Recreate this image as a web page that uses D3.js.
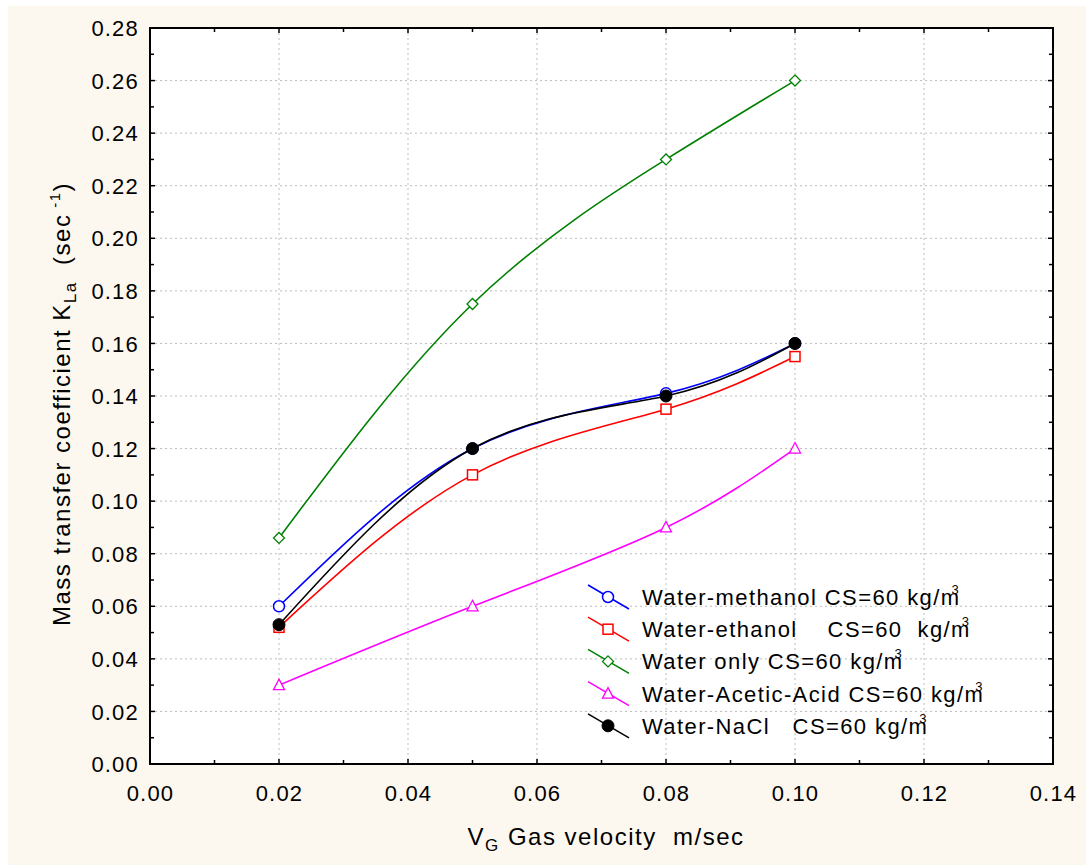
<!DOCTYPE html>
<html>
<head>
<meta charset="utf-8">
<script src="https://cdn.jsdelivr.net/npm/d3@7"></script>
<style>
  html, body { margin: 0; padding: 0; background: #ffffff; }
  svg { display: block; }
  text { font-family: "Liberation Sans", Arial, sans-serif; fill: #000; }
</style>
</head>
<body>
<svg id="chart" width="1086" height="867"></svg>
<script>
// ---- data ----
const gasVelocity = [0.02, 0.05, 0.08, 0.10];
const methanol = [0.060, 0.120, 0.141, 0.160];
const ethanol  = [0.052, 0.110, 0.135, 0.155];
const waterOnly = [0.086, 0.175, 0.230, 0.260];
const aceticAcid = [0.030, 0.060, 0.090, 0.120];
const nacl = [0.053, 0.120, 0.140, 0.160];
const seriesNames = [
  "Water-methanol CS=60 kg/m",
  "Water-ethanol    CS=60  kg/m",
  "Water only CS=60 kg/m",
  "Water-Acetic-Acid CS=60 kg/m",
  "Water-NaCl   CS=60 kg/m"
];
const xTicks = [0.00, 0.02, 0.04, 0.06, 0.08, 0.10, 0.12, 0.14];
const yTicks = [0.00, 0.02, 0.04, 0.06, 0.08, 0.10, 0.12, 0.14, 0.16, 0.18, 0.20, 0.22, 0.24, 0.26, 0.28];

const seriesStyle = [
  {values: methanol, color: "#0000ff", marker: "circle"},
  {values: ethanol, color: "#ff0000", marker: "square"},
  {values: waterOnly, color: "#008000", marker: "diamond"},
  {values: aceticAcid, color: "#ff00ff", marker: "triangle"},
  {values: nacl, color: "#000000", marker: "dot"}
];

// ---- layout ----
const svg = d3.select("#chart");
const L = 150, R = 1053, T = 28, B = 764;
svg.append("rect").attr("x", 8).attr("y", 6).attr("width", 1078).attr("height", 859).attr("fill", "#fcf8ef");
svg.append("rect").attr("x", L).attr("y", T).attr("width", R - L).attr("height", B - T).attr("fill", "#ffffff");

const x = d3.scaleLinear().domain([0, 0.14]).range([L, R]);
const y = d3.scaleLinear().domain([0, 0.28]).range([B, T]);

// grid
const g = svg.append("g");
xTicks.slice(1, -1).forEach(t => {
  g.append("line").attr("x1", x(t)).attr("x2", x(t)).attr("y1", T).attr("y2", B)
    .attr("stroke", "#bdbdbd").attr("stroke-width", 1).attr("stroke-dasharray", "2,3");
});
yTicks.slice(1, -1).forEach(t => {
  g.append("line").attr("y1", y(t)).attr("y2", y(t)).attr("x1", L).attr("x2", R)
    .attr("stroke", "#bdbdbd").attr("stroke-width", 1).attr("stroke-dasharray", "2,3");
});

// axes (tick labels)
const fmt = d3.format(".2f");
const xMinor = d3.range(0, 0.1401, 0.01);
const yMinor = d3.range(0, 0.2801, 0.01);

const xAxisB = d3.axisBottom(x).tickValues(xTicks).tickFormat(fmt).tickSize(0).tickPadding(21);
const gx = svg.append("g").attr("transform", `translate(0,${B})`).call(xAxisB);
gx.select(".domain").remove();
gx.selectAll("text").attr("font-size", 22).attr("font-family", "Liberation Sans, Arial, sans-serif")
  .attr("fill", "#000").style("letter-spacing", "1.2px");

const yAxisL = d3.axisLeft(y).tickValues(yTicks).tickFormat(fmt).tickSize(0).tickPadding(11);
const gy = svg.append("g").attr("transform", `translate(${L},0)`).call(yAxisL);
gy.select(".domain").remove();
gy.selectAll("text").attr("font-size", 22).attr("font-family", "Liberation Sans, Arial, sans-serif")
  .attr("fill", "#000").style("letter-spacing", "1.2px").attr("dy", "0.35em");

// tick marks on all four sides (inward)
const tk = svg.append("g").attr("stroke", "#000").attr("stroke-width", 1.5);
xMinor.forEach((t, i) => {
  const len = (i % 2 === 0) ? 5 : 4;
  tk.append("line").attr("x1", x(t)).attr("x2", x(t)).attr("y1", B).attr("y2", B - len);
  tk.append("line").attr("x1", x(t)).attr("x2", x(t)).attr("y1", T).attr("y2", T + len);
});
yMinor.forEach((t, i) => {
  const len = (i % 2 === 0) ? 5 : 4;
  tk.append("line").attr("y1", y(t)).attr("y2", y(t)).attr("x1", L).attr("x2", L + len);
  tk.append("line").attr("y1", y(t)).attr("y2", y(t)).attr("x1", R).attr("x2", R - len);
});

// frame
svg.append("rect").attr("x", L).attr("y", T).attr("width", R - L).attr("height", B - T)
  .attr("fill", "none").attr("stroke", "#000").attr("stroke-width", 2);

// markers
function drawMarker(sel, type, cx, cy, color) {
  const s = 5;
  if (type === "circle") {
    sel.append("circle").attr("cx", cx).attr("cy", cy).attr("r", 5.5)
      .attr("fill", "#fff").attr("stroke", color).attr("stroke-width", 1.5);
  } else if (type === "square") {
    sel.append("rect").attr("x", cx - s).attr("y", cy - s).attr("width", 2 * s).attr("height", 2 * s)
      .attr("fill", "#fff").attr("stroke", color).attr("stroke-width", 1.5);
  } else if (type === "diamond") {
    sel.append("path").attr("d", `M${cx},${cy - 5.5}L${cx + 5.5},${cy}L${cx},${cy + 5.5}L${cx - 5.5},${cy}Z`)
      .attr("fill", "#fff").attr("stroke", color).attr("stroke-width", 1.3);
  } else if (type === "triangle") {
    sel.append("path").attr("d", `M${cx},${cy - 6}L${cx + 5.5},${cy + 4.5}L${cx - 5.5},${cy + 4.5}Z`)
      .attr("fill", "#fff").attr("stroke", color).attr("stroke-width", 1.3);
  } else if (type === "dot") {
    sel.append("circle").attr("cx", cx).attr("cy", cy).attr("r", 6)
      .attr("fill", color).attr("stroke", color).attr("stroke-width", 1);
  }
}

// lines
const line = d3.line().x(d => x(d[0])).y(d => y(d[1])).curve(d3.curveNatural);
const plot = svg.append("g");
seriesStyle.forEach(s => {
  const pts = gasVelocity.map((v, i) => [v, s.values[i]]);
  plot.append("path").datum(pts).attr("d", line)
    .attr("fill", "none").attr("stroke", s.color).attr("stroke-width", 1.6);
});
seriesStyle.forEach(s => {
  gasVelocity.forEach((v, i) => drawMarker(plot, s.marker, x(v), y(s.values[i]), s.color));
});

// legend
const lg = svg.append("g");
const legY0 = 597, legDy = 32.2;
seriesStyle.forEach((s, i) => {
  const cy = legY0 + i * legDy;
  lg.append("line").attr("x1", 588).attr("y1", cy - 12).attr("x2", 629).attr("y2", cy + 12)
    .attr("stroke", s.color).attr("stroke-width", 1.5);
  drawMarker(lg, s.marker, 608, cy, s.color);
  const t = lg.append("text").attr("x", 642).attr("y", cy + 8).attr("font-size", 22)
    .style("white-space", "pre").style("letter-spacing", "1.4px");
  t.append("tspan").text(seriesNames[i]);
  t.append("tspan").attr("font-size", 13).attr("dx", -9).attr("dy", -11).style("letter-spacing", "0px").text("3");
});

// axis titles
const xt = svg.append("text").attr("x", 606).attr("y", 845).attr("text-anchor", "middle")
  .attr("font-size", 24).style("white-space", "pre").style("letter-spacing", "1.5px");
xt.append("tspan").text("V");
xt.append("tspan").attr("font-size", 17).attr("dy", 6).text("G");
xt.append("tspan").attr("dy", -6).text(" Gas velocity  m/sec");

const yt = svg.append("text").attr("transform", "translate(70,404) rotate(-90)").attr("text-anchor", "middle")
  .attr("font-size", 24).style("white-space", "pre").style("letter-spacing", "1.5px");
yt.append("tspan").text("Mass transfer coefficient K");
yt.append("tspan").attr("font-size", 17).attr("dy", 6).text("La");
yt.append("tspan").attr("dy", -6).text("  (sec");
yt.append("tspan").attr("font-size", 15).attr("dy", -10).text(" -1");
yt.append("tspan").attr("dy", 10).text(")");
</script>
</body>
</html>
